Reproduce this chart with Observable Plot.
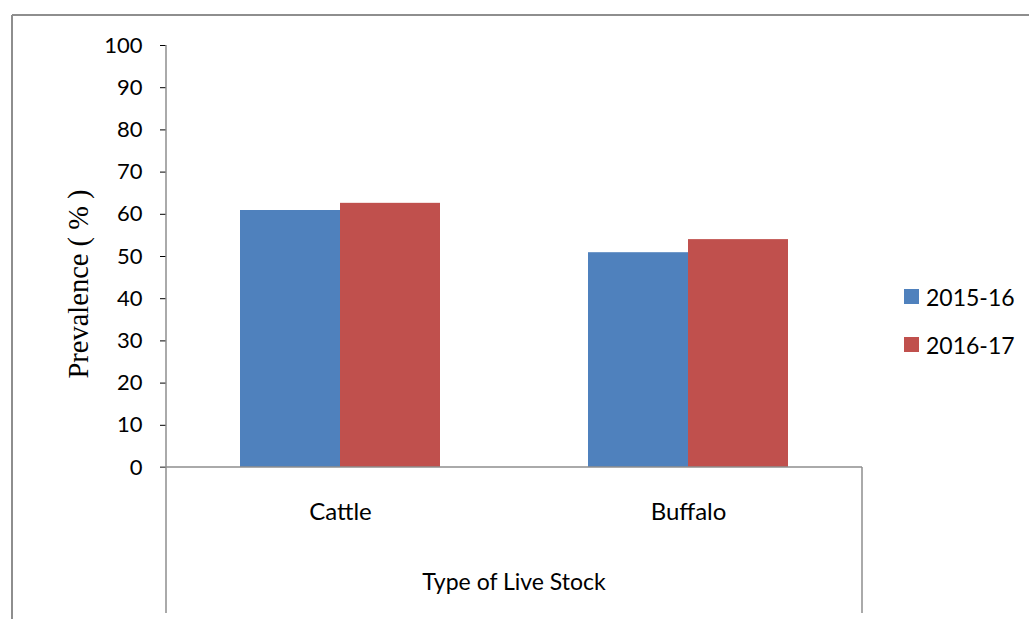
<!DOCTYPE html>
<html><head><meta charset="utf-8">
<script src="https://cdn.jsdelivr.net/npm/d3@7"></script>
<script src="https://cdn.jsdelivr.net/npm/@observablehq/plot@0.6"></script>
<style>body{margin:0;background:#fff}#chart{position:relative;width:1029px;height:619px}</style>
</head><body><div id="chart"></div>
<script>
const categories = ["Cattle", "Buffalo"];
const years = ["2015-16", "2016-17"];
const values2015 = [60.9, 50.9];
const values2016 = [62.6, 54.0];
const yTicks = [0, 10, 20, 30, 40, 50, 60, 70, 80, 90, 100];
const colors = ["#4F81BD", "#C0504D"];
const yTitle = "Prevalence ( % )";
const xTitle = "Type of Live Stock";

const data = categories.flatMap((c, i) => [
  {category: c, year: years[0], value: values2015[i]},
  {category: c, year: years[1], value: values2016[i]}
]);

const plot = Plot.plot({
  width: 1029, height: 619,
  marginLeft: 166, marginRight: 167, marginTop: 45, marginBottom: 152,
  style: {fontFamily: "Lato", fontSize: "22px", color: "#000", background: "#fff", overflow: "visible"},
  fx: {domain: categories, padding: 0, axis: "bottom", label: null, tickSize: 0, tickPadding: 35},
  x: {domain: years, axis: null, paddingInner: 0, paddingOuter: 0.74},
  y: {domain: [0, 100], ticks: yTicks, tickSize: 6, tickPadding: 18, label: null, tickFormat: d => String(d)},
  color: {domain: years, range: colors},
  marks: [
    Plot.barY(data, {fx: "category", x: "year", y: "value", fill: "year"})
  ]
});
document.getElementById("chart").appendChild(plot);

const svg = d3.select(plot);
const gray = "#8E8E8E";
svg.selectAll("line").attr("stroke", gray);
svg.selectAll("path").filter(function(){ return this.getAttribute("fill") === "none"; }).attr("stroke", gray);
svg.selectAll("[aria-label='fx-axis tick label'] text, [aria-label='fx-axis'] text, [aria-label='fx-axis tick label']")
  .style("font-size", "24px");

const fxS = plot.scale("fx"), yS = plot.scale("y");
const y = v => yS.apply(v);
const left = fxS.range[0], right = fxS.range[1];
const bottom = 613;
const g = svg.append("g").attr("stroke", gray).attr("stroke-width", 1.5);
// outer chart border
g.append("line").attr("x1", 12).attr("x2", 12).attr("y1", 15).attr("y2", 619).attr("stroke-width", 2);
g.append("line").attr("x1", 12).attr("x2", 1029).attr("y1", 15).attr("y2", 15).attr("stroke-width", 2);
// axes
g.append("line").attr("x1", left).attr("x2", left).attr("y1", y(100)).attr("y2", bottom);
g.append("line").attr("x1", right).attr("x2", right).attr("y1", y(0)).attr("y2", bottom);
g.append("line").attr("x1", left - 6).attr("x2", right).attr("y1", y(0)).attr("y2", y(0));

// y title
svg.append("text")
  .attr("transform", `translate(88,${(y(0) + y(100)) / 2 + 28}) rotate(-90)`)
  .attr("text-anchor", "middle")
  .style("font-family", "'Liberation Serif', 'DejaVu Serif', serif")
  .style("font-size", "28.5px")
  .attr("fill", "#000")
  .text(yTitle);

// x title
svg.append("text")
  .attr("x", (left + right) / 2).attr("y", 590)
  .attr("text-anchor", "middle")
  .style("font-family", "Lato").style("font-size", "23px")
  .attr("fill", "#000")
  .text(xTitle);

// legend
const lg = svg.append("g").attr("text-anchor", "start");
years.forEach((yr, i) => {
  const cy = 297 + i * 48;
  lg.append("rect").attr("x", 904).attr("y", cy - 8).attr("width", 15).attr("height", 15).attr("fill", plot.scale("color").apply(yr));
  lg.append("text").attr("x", 926).attr("y", cy + 8.5).attr("text-anchor", "start")
    .style("font-family", "Lato").style("font-size", "23px").attr("fill", "#000").text(yr);
});
</script>
</body></html>
